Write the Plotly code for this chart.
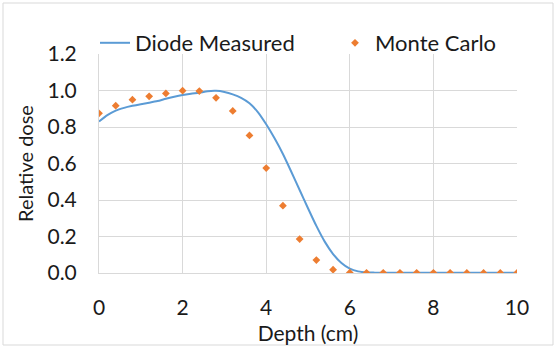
import plotly.graph_objects as go

# Diode measured depth-dose (cm, relative dose)
diode_depth = [0.0, 0.2, 0.4, 0.6, 0.8, 1.0, 1.2, 1.4, 1.6, 1.8, 2.0, 2.2, 2.4, 2.6, 2.8,
               3.0, 3.2, 3.4, 3.6, 3.8, 4.0, 4.2, 4.4, 4.6, 4.8, 5.0, 5.2, 5.4, 5.6, 5.8,
               6.0, 6.2, 6.4, 6.6, 7.0, 7.5, 8.0, 8.5, 9.0, 9.5, 10.0]
diode_dose = [0.83, 0.865, 0.89, 0.905, 0.916, 0.925, 0.933, 0.942, 0.955, 0.966, 0.975,
              0.982, 0.988, 0.996, 0.998, 0.992, 0.979, 0.96, 0.93, 0.882, 0.815, 0.738,
              0.652, 0.555, 0.455, 0.355, 0.258, 0.172, 0.104, 0.055, 0.024, 0.009, 0.003,
              0.002, 0.001, 0.001, 0.001, 0.001, 0.001, 0.001, 0.001]

# Monte Carlo
mc_depth = [0.0, 0.4, 0.8, 1.2, 1.6, 2.0, 2.4, 2.8, 3.2, 3.6, 4.0, 4.4, 4.8, 5.2, 5.6,
            6.0, 6.4, 6.8, 7.2, 7.6, 8.0, 8.4, 8.8, 9.2, 9.6, 10.0]
mc_dose = [0.875, 0.917, 0.95, 0.968, 0.984, 0.999, 0.997, 0.96, 0.888, 0.754, 0.575,
           0.369, 0.186, 0.071, 0.018, 0.002, 0.001, 0.001, 0.001, 0.001, 0.001, 0.001,
           0.0, 0.0, 0.0, 0.0]

x_ticks = [0, 2, 4, 6, 8, 10]
y_ticks = [0.0, 0.2, 0.4, 0.6, 0.8, 1.0, 1.2]

FONT = "Lato"
TXT = "#1a1a1a"
PW, PH = 418, 219

fig = go.Figure()
fig.add_trace(go.Scatter(
    x=diode_depth, y=diode_dose, mode="lines", name="Diode Measured",
    line=dict(color="#5B9BD5", width=2, shape="spline", smoothing=0.6),
    legend="legend",
))
fig.add_trace(go.Scatter(
    x=mc_depth, y=mc_dose, mode="markers", name="Monte Carlo",
    marker=dict(color="#ED7D31", symbol="diamond", size=6, line=dict(width=0)),
    legend="legend2",
))

leg_common = dict(orientation="h", xanchor="left", yanchor="middle",
                  y=1 + (54 - 43) / PH,
                  font=dict(family=FONT, size=22, color=TXT),
                  bgcolor="rgba(0,0,0,0)", itemclick=False, itemdoubleclick=False)

fig.update_layout(
    width=560, height=347,
    margin=dict(l=99, r=43, t=54, b=74, autoexpand=False),
    paper_bgcolor="white", plot_bgcolor="white",
    font=dict(family=FONT, size=20, color=TXT),
    showlegend=True,
    legend=dict(x=(135 - 40 - 99) / PW, **leg_common),
    legend2=dict(x=(375 - 40 - 99) / PW, **leg_common),
    xaxis=dict(range=[0, 10], tickvals=x_ticks, ticktext=[str(v) for v in x_ticks],
               showgrid=True, gridcolor="#D9D9D9", gridwidth=1,
               showline=True, linecolor="#D9D9D9", zeroline=False,
               ticks="", ticklabelstandoff=16, automargin=False,
               tickfont=dict(family=FONT, size=21, color=TXT),
               title=dict(text="Depth (cm)", font=dict(family=FONT, size=21, color=TXT), standoff=8)),
    yaxis=dict(range=[0, 1.2], tickvals=y_ticks, ticktext=[f"{v:.1f}" for v in y_ticks],
               showgrid=True, gridcolor="#D9D9D9", gridwidth=1,
               showline=True, linecolor="#D9D9D9", zeroline=False,
               ticks="", ticklabelstandoff=17, automargin=False,
               tickfont=dict(family=FONT, size=21, color=TXT),
               title=dict(text="Relative dose", font=dict(family=FONT, size=20, color=TXT), standoff=8)),
    shapes=[dict(type="rect", xref="paper", yref="paper",
                 x0=(3 - 99) / PW, x1=(553 - 99) / PW, y0=(273 - 345) / PH, y1=(273 - 3) / PH,
                 line=dict(color="#D9D9D9", width=1), fillcolor="rgba(0,0,0,0)", layer="below")],
)

fig.write_html("out.html")
